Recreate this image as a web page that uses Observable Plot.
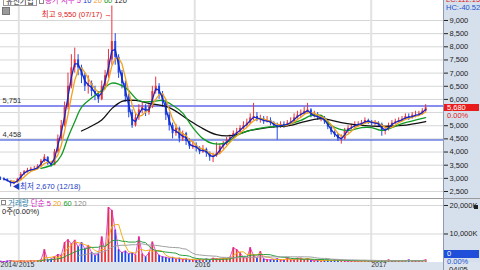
<!DOCTYPE html>
<html><head><meta charset="utf-8">
<script src="https://cdn.jsdelivr.net/npm/d3@7"></script>
<script src="https://cdn.jsdelivr.net/npm/@observablehq/plot@0.6"></script>
<style>
html,body{margin:0;padding:0;background:#fff;}
#wrap{position:relative;width:480px;height:270px;overflow:hidden;font-family:"Liberation Sans","Noto Sans CJK KR",Arial,sans-serif;font-size:7.5px;color:#222;background:#fff}
.abs{position:absolute;white-space:nowrap;line-height:1}
svg{position:absolute;left:0}
</style></head><body><div id="wrap"></div>
<script>
// ---- data (weekly) ----
const startDate = "2014-11-24";
const closes = [2990,2950,2900,2800,2850,2950,3150,3250,3300,3350,
 3350,3450,3650,3800,3550,3500,4000,4500,5000,5700,
 6500,7200,7500,7200,6900,6500,6600,6300,6200,6000,
 6500,6900,7500,8200,7600,7000,6600,6100,5500,5000,
 5300,5600,5700,5500,5700,6300,6500,6200,5900,5400,
 5000,4700,4900,4500,4700,4400,4200,4250,4150,4000,
 4100,3950,3800,3850,3950,4200,4300,4450,4550,4700,
 4750,4900,5000,5100,5300,5350,5250,5250,5150,5200,
 5100,5000,4950,5050,5000,5100,5150,5300,5400,5450,
 5550,5600,5350,5400,5300,5300,5150,4950,4750,4650,
 4500,4500,4800,4900,4950,5050,5050,5100,5200,5150,
 5100,5100,5050,4800,4850,5000,5100,5150,5200,5250,
 5350,5300,5400,5400,5450,5550,5680];
const highs = [3050,3020,2980,2920,2900,3000,3220,3300,3380,3420,
 3450,3520,3720,3900,3820,3600,4100,4650,5200,5900,
 7000,7700,7950,7700,7300,7000,6900,6700,6500,6300,
 6700,7100,7900,9550,8500,7700,7100,6700,6200,5600,
 5500,5800,5900,5800,5850,6500,6850,6600,6300,6000,
 5500,5100,5050,4950,4800,4750,4500,4400,4350,4200,
 4250,4150,4000,3950,4350,4300,4400,4550,4650,4800,
 4900,5000,5150,5250,5450,5850,5500,5400,5350,5350,
 5300,5150,5100,5150,5150,5200,5300,5450,5550,5600,
 5700,5850,5650,5550,5500,5400,5350,5200,5000,4800,
 4700,4650,4900,5000,5050,5150,5150,5200,5300,5250,
 5200,5200,5150,5100,4950,5100,5200,5250,5300,5350,
 5450,5450,5500,5550,5550,5650,5800];
const lows = [2920,2900,2860,2670,2760,2820,2930,3100,3200,3250,
 3280,3320,3420,3600,3500,3420,3480,3950,4450,4950,
 5600,6400,7000,6900,6600,6300,6200,6100,5950,5850,
 5950,6400,6800,7300,7300,6800,6400,5900,5300,4900,
 4950,5200,5450,5350,5400,5650,6200,6000,5700,5200,
 4800,4500,4600,4350,4400,4250,4100,4100,4000,3900,
 3950,3800,3650,3600,3800,3900,4100,4250,4350,4500,
 4600,4700,4850,4950,5050,5200,5150,5100,5050,5100,
 5000,4900,4450,4900,4900,4950,5050,5100,5250,5300,
 5400,5450,5300,5300,5200,5150,5050,4850,4650,4550,
 4400,4300,4450,4700,4850,4900,4950,5000,5050,5050,
 5000,5000,4950,4600,4650,4800,4950,5050,5100,5150,
 5200,5200,5250,5300,5350,5400,5500];
const firstOpen = 3000;
const volumes = [400,350,500,700,450,400,600,500,450,700,
 550,600,900,4500,800,1200,2000,2800,2500,7000,
 8000,6500,7800,5500,7000,4800,6000,3500,2500,3000,
 9000,4000,19300,18300,11400,4500,3500,4000,3000,3500,
 2500,9000,3000,2000,3400,7200,4000,2500,2000,1800,
 1500,1800,1200,1500,1000,1200,900,1100,800,1000,
 900,1200,1000,1500,1300,1200,1500,1400,1800,5200,
 4500,3400,1800,1500,5200,2500,1500,3800,1200,1000,
 900,1100,1300,900,800,1700,1000,900,1500,1500,
 1000,1400,700,600,800,600,700,800,600,900,
 700,800,600,500,600,500,400,500,600,500,
 400,500,600,700,500,900,500,600,700,500,
 600,900,500,600,500,700,900];
// long moving averages (week index, value)
const ma120Week = [24,27,30,33,36,40,44,50,56,60,64,69,74,79,86,89,95,101,107,113,119,126];
const ma120Val  = [4800,4990,5220,5650,5930,5960,5850,5690,5200,4890,4660,4630,4820,4930,5010,5120,5270,5120,5010,4970,5010,5160];
const ma60Week = [12,16,18,20,22,24,27,30,33,37,41,45,48,51,54,57,60,63,67,70,74,78,84,89,92,95,98,103,107,110,113,119,126];
const ma60Val  = [3380,3560,3870,4550,5150,5700,6050,6340,6620,6450,5950,5920,5960,5780,5480,4930,4510,4320,4360,4630,4820,4930,5010,5200,5380,5390,5010,4820,4930,4930,4820,5080,5310];
const priceTicks = [2500,3000,3500,4000,4500,5000,5500,6000,6500,7000,7500,8000,8500,9000];
// 5,500 label is hidden behind the current-price box in the reference
const priceTickLabels = [2500,3000,3500,4000,4500,5000,6000,6500,7000,7500,8000,8500,9000];
const volTicks = [10000, 20000];
const levelLines = [5751, 4458];
const yearDates = ["2015-01-01","2016-01-01","2017-01-01"];
const dateLabels = ["2014/","2015","2016","2017"];
const dateLabelDates = ["2014-11-24","2015-01-01","2016-01-01","2017-01-01"];
const highDateLabel = "07/17", lowDateLabel = "12/18";
const lastPrice = 5680;

// ---- build tables ----
const d0 = new Date(startDate);
const rows = closes.map((c, i) => ({
  date: d3.utcMonday.offset(d0, i),
  open: i ? closes[i-1] : firstOpen,
  close: c, high: highs[i], low: lows[i], vol: volumes[i]
}));
const ma120 = ma120Week.map((w, i) => ({date: d3.utcMonday.offset(d0, w), v: ma120Val[i]}));
const ma60 = ma60Week.map((w, i) => ({date: d3.utcMonday.offset(d0, w), v: ma60Val[i]}));
const UP = "#e8343c", DN = "#1d48e6";
const col = d => d.close >= d.open ? UP : DN;
const fmt = d3.format(",");
const peak = d3.greatest(rows, d => d.high);
const trough = d3.least(rows, d => d.low);
const xDomain = [d0, new Date("2017-05-31")];
const font = '"Liberation Sans","Noto Sans CJK KR",Arial,sans-serif';
const style = {background:"transparent", fontFamily:font, fontSize:"7.5px", color:"#222", overflow:"visible"};
const wrap = document.getElementById("wrap");

function div(css, html) {
  const e = document.createElement("div");
  e.className = "abs";
  e.style.cssText = css;
  if (html != null) e.innerHTML = html;
  wrap.appendChild(e);
  return e;
}
// backgrounds
div("left:443px;top:0;width:37px;height:270px;background:#d6e0ec;");
div("left:0;top:262px;width:480px;height:8px;background:#dbe3ee;");
div("left:443px;top:0;width:1px;height:270px;background:#8d9bb0;");
div("left:0;top:198px;width:480px;height:1px;background:#9a9a9a;");

const ma = (k, y, stroke, w) => Plot.lineY(rows, Plot.windowY({k, anchor:"end", strict:true}, {x:"date", y, stroke, strokeWidth:w}));

const price = Plot.plot({
  width: 480, height: 198, marginLeft: 0, marginRight: 37, marginTop: 0, marginBottom: 0,
  style,
  x: {type:"utc", domain: xDomain, axis: null},
  y: {domain:[2234, 9760], axis:"right", ticks: priceTickLabels, tickFormat: d => fmt(d), tickSize:4, tickPadding:2, label:null},
  marks: [
    Plot.ruleY(priceTicks, {stroke:"#d6d6d6"}),
    Plot.ruleX(yearDates.map(d => new Date(d)), {stroke:"#e2e2e2", strokeWidth:2}),
    Plot.ruleY([levelLines[0]], {stroke:"#8a8cf0", strokeWidth:2}),
    Plot.ruleY([levelLines[1]], {stroke:"#2040d8", strokeWidth:1.2}),
    Plot.ruleX(rows, {x:"date", y1:"low", y2:"high", stroke: col, strokeWidth:1}),
    Plot.ruleX(rows, {x:"date", y1:"open", y2:"close", stroke: col, strokeWidth:2}),
    Plot.lineY(ma120, {x:"date", y:"v", stroke:"#111111", strokeWidth:1.3, curve:"catmull-rom"}),
    Plot.lineY(ma60, {x:"date", y:"v", stroke:"#129a22", strokeWidth:1.3, curve:"catmull-rom"}),
    ma(4, "close", "#f2a21a", 1.3),
    ma(2, "close", "#1428c8", 1.3),
    Plot.text(levelLines, {y: d => d, text: d => fmt(d), frameAnchor:"left", textAnchor:"start", dx:2, dy:-5, fill:"#333", fontSize:7.5}),
    Plot.text([peak], {x:"date", y:"high", text: d => `최고 ${fmt(d.high)} (${highDateLabel}) →`, textAnchor:"end", dx:0, dy:9, fill:"#e02020", fontSize:7.5}),
    Plot.text([trough], {x:"date", y:"low", text: d => `◀최저 ${fmt(d.low)} (${lowDateLabel})`, textAnchor:"start", dx:2, dy:0, fill:"#1a3cc8", fontSize:7.5})
  ]
});
price.style.top = "0px";
wrap.appendChild(price);

const vol = Plot.plot({
  width: 480, height: 71, marginLeft: 0, marginRight: 37, marginTop: 0, marginBottom: 8,
  style,
  x: {type:"utc", domain: xDomain, axis: null},
  y: {domain:[0, 22105], axis:"right", ticks: volTicks, tickFormat: d => fmt(d) + "K", tickSize:4, tickPadding:2, label:null},
  marks: [
    Plot.ruleY(volTicks, {stroke:"#d6d6d6"}),
    Plot.ruleX(yearDates.map(d => new Date(d)), {stroke:"#e2e2e2", strokeWidth:2}),
    Plot.ruleX(rows, {x:"date", y:"vol", stroke: col, strokeWidth:1.8}),
    Plot.lineY(rows, {x:"date", y:"vol", stroke:"#e020c8", strokeWidth:0.8}),
    ma(4, "vol", "#f2b01a", 1),
    ma(12, "vol", "#2aa040", 1),
    ma(24, "vol", "#a0a0a0", 1),
    Plot.text(dateLabels, {x: (d, i) => new Date(dateLabelDates[i]), text: d => d, frameAnchor:"bottom", textAnchor:"start", dy:4.5, dx:0, fill:"#333", fontSize:7})
  ]
});
vol.style.top = "199px";
wrap.appendChild(vol);

// ---- legends / labels ----
div("left:3px;top:-4px;border:1px solid #999;padding:0 2px;height:8px;line-height:9px;background:#fff;color:#222;", "유진기업");
div("left:39px;top:-1px;width:3px;height:3px;border:1px solid #888;");
div("left:45px;top:-3px;line-height:8px;",
  '<span style="color:#d020c0">종가 지수 5</span> <span style="color:#1a3ad0">10</span> <span style="color:#f0a020">20</span> <span style="color:#1a9a2a">60</span> <span style="color:#222">120</span>');
div("left:2px;top:7px;width:6px;height:6px;background:#9a9a9a;border:1px solid #777;");
div("left:446px;top:-4.5px;color:#e02020;", "LC:112.15");
div("left:446px;top:3.5px;color:#2050d0;", "HC:-40.52");
div("left:444px;top:103.5px;width:35px;height:7.5px;background:#e81c1c;color:#fff;line-height:7.5px;padding-left:3px;box-sizing:border-box;", fmt(lastPrice));
div("left:447px;top:112px;color:#e02020;", "0.00%");
div("left:1px;top:200px;width:3px;height:3px;border:1px solid #888;");
div("left:8px;top:199.5px;",
  '<span style="color:#2a80a8">거래량</span> <span style="color:#d020c0">단순 5</span> <span style="color:#f0a020">20</span> <span style="color:#1a9a2a">60</span> <span style="color:#888">120</span>');
div("left:2px;top:207.5px;color:#222;", "0주(0.00%)");
div("left:474px;top:205px;width:4px;height:4px;background:#222;");
div("left:444px;top:250px;width:35px;height:7.5px;background:#1f4ed8;color:#fff;line-height:7.5px;padding-left:3px;box-sizing:border-box;", "0");
div("left:447px;top:257.5px;color:#2050d0;", "0.00%");
div("left:449px;top:265.5px;color:#222;", "04/05");
</script></body></html>
